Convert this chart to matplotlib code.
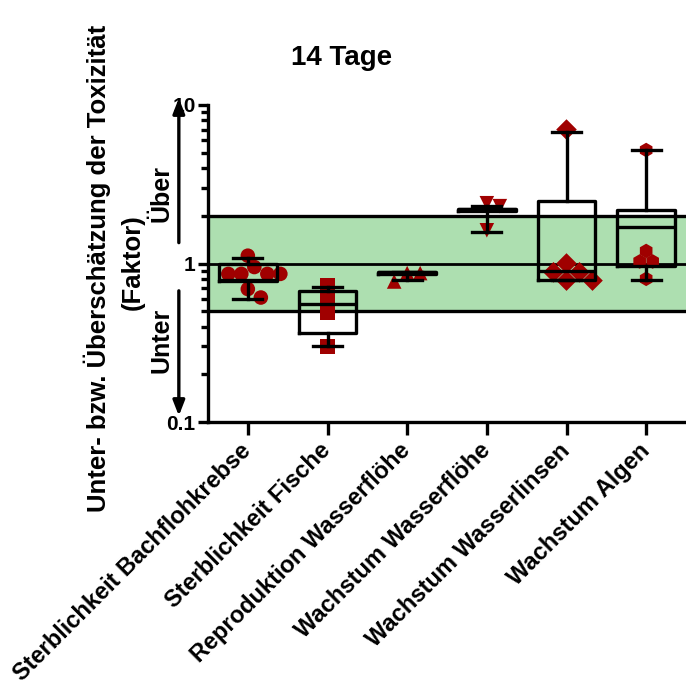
import numpy as np
import matplotlib
matplotlib.use('Agg')
import matplotlib.pyplot as plt
from matplotlib.ticker import LogLocator, NullFormatter

plt.rcParams['font.family'] = ['Liberation Sans', 'DejaVu Sans']
plt.rcParams['font.weight'] = 'bold'

# Daten
categories = ['Sterblichkeit Bachflohkrebse', 'Sterblichkeit Fische',
              'Reproduktion Wasserflöhe', 'Wachstum Wasserflöhe',
              'Wachstum Wasserlinsen', 'Wachstum Algen']
points = [
    [1.12, 0.95, 0.86, 0.86, 0.86, 0.86, 0.69, 0.61],
    [0.73, 0.61, 0.49, 0.30],
    [0.87, 0.87, 0.77],
    [2.4, 2.3, 1.62],
    [7.0, 1.0, 0.88, 0.88, 0.78, 0.78],
    [5.2, 1.2, 1.03, 1.03, 0.8],
]
box_min = [0.60, 0.30, 0.79, 1.58, 0.79, 0.79]
box_q1 = [0.775, 0.367, 0.86, 2.15, 0.79, 0.96]
box_med = [0.79, 0.556, 0.88, 2.20, 0.90, 1.70]
box_q3 = [1.0, 0.67, 0.89, 2.22, 2.48, 2.18]
box_max = [1.09, 0.71, 0.89, 2.30, 6.8, 5.2]
markers = ['o', 's', '^', 'v', 'D', 'h']
band = (0.5, 2.0)
ref_lines = [0.5, 1.0, 2.0]

BAND_COLOR = '#addfb0'
DOT_COLOR = '#a00000'
LW = 2.4


def swarm_offsets(ax, x0, vals, diam_px):
    """Einfacher Beeswarm: seitlich ausweichen, wenn Punkte sich zu sehr ueberlappen."""
    trans = ax.transData
    inv = trans.inverted()
    dx_data = inv.transform((diam_px, 0))[0] - inv.transform((0, 0))[0]
    placed = []
    offs = []
    for v in vals:
        ypx = trans.transform((x0, v))[1]
        for k in range(0, 30):
            cand = 0 if k == 0 else ((k + 1) // 2) * (1 if k % 2 else -1) * 0.5
            xpx = trans.transform((x0 + cand * dx_data, v))[0]
            if all(np.hypot(xpx - px, ypx - py) >= diam_px * 0.9 for px, py in placed):
                placed.append((xpx, ypx))
                offs.append(cand * dx_data)
                break
    return offs


fig = plt.figure(figsize=(6.86, 6.80), dpi=100)
ax = fig.add_axes([208 / 686, 1 - 422 / 680, (686 - 208) / 686, (422 - 105) / 680])
ax.set_yscale('log')
ax.set_ylim(0.1, 10)
ax.set_xlim(-0.5, 5.5)

ax.axhspan(band[0], band[1], color=BAND_COLOR, zorder=0, lw=0)
for r in ref_lines:
    ax.axhline(r, color='black', lw=LW if r != 1.0 else 2.0, zorder=1)

pos = np.arange(len(categories))
for i, vals in enumerate(points):
    offs = swarm_offsets(ax, pos[i], vals, 13)
    ax.scatter(pos[i] + np.array(offs), vals, marker=markers[i], s=110,
               color=DOT_COLOR, edgecolors='none', zorder=2)

stats = []
for i in range(len(categories)):
    stats.append(dict(whislo=box_min[i], q1=box_q1[i], med=box_med[i],
                      q3=box_q3[i], whishi=box_max[i], fliers=[]))
line_kw = dict(color='black', lw=LW)
ax.bxp(stats, positions=pos, widths=0.72, capwidths=0.36, showfliers=False,
       boxprops=line_kw, whiskerprops=line_kw, capprops=line_kw,
       medianprops=line_kw, zorder=3)

for s in ['top', 'right']:
    ax.spines[s].set_visible(False)
for s in ['left', 'bottom']:
    ax.spines[s].set_linewidth(LW)

ax.set_yticks([0.1, 1, 10], ['0.1', '1', '10'])
ax.yaxis.set_minor_locator(LogLocator(base=10, subs=np.arange(2, 10)))
ax.yaxis.set_minor_formatter(NullFormatter())
ax.tick_params(axis='y', which='major', length=7, width=LW, labelsize=15, pad=2)
ax.tick_params(axis='y', which='minor', length=5, width=LW)
ax.set_xticks(pos)
ax.set_xticklabels(categories, rotation=45, ha='right', va='center',
                   rotation_mode='anchor', fontsize=17)
ax.tick_params(axis='x', length=9, width=LW, pad=9)

# Pfeile Ueber / Unter
xa = -0.061
arrow_kw = dict(arrowstyle='-|>,head_length=0.9,head_width=0.35', color='black', lw=LW)
ax.annotate('', xy=(xa, 11.5), xytext=(xa, 1.3), xycoords=('axes fraction', 'data'),
            arrowprops=arrow_kw, annotation_clip=False)
ax.annotate('', xy=(xa, 0.105), xytext=(xa, 0.70), xycoords=('axes fraction', 'data'),
            arrowprops=arrow_kw, annotation_clip=False)
fig.text(162 / 686, 1 - 193 / 680, 'Über', rotation=90, ha='center', va='center', fontsize=18)
fig.text(162 / 686, 1 - 340 / 680, 'Unter', rotation=90, ha='center', va='center', fontsize=18)

fig.text(97 / 686, 1 - 268 / 680, 'Unter- bzw. Überschätzung der Toxizität',
         rotation=90, ha='center', va='center', fontsize=18.5)
fig.text(133 / 686, 1 - 262 / 680, '(Faktor)', rotation=90, ha='center', va='center', fontsize=18.5)

fig.text(342 / 686, 1 - 58 / 680, '14 Tage', ha='center', va='center', fontsize=20)

fig.savefig('out.png', dpi=100)
